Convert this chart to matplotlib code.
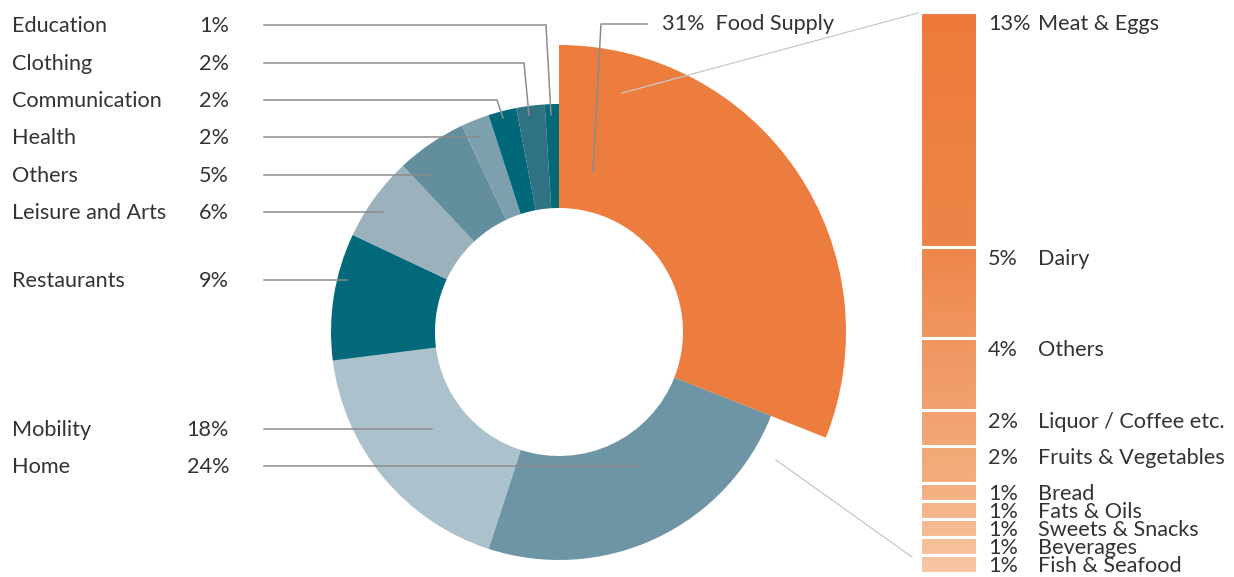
"""
Household spending donut with food supply breakdown
"""
import matplotlib
matplotlib.use("Agg")
import matplotlib.pyplot as plt
import numpy as np
from matplotlib.colors import LinearSegmentedColormap

plt.rcParams['font.family'] = ['Lato', 'DejaVu Sans']

# ---------------- data ----------------
categories = ['Food Supply', 'Home', 'Mobility', 'Restaurants', 'Leisure and Arts',
              'Others', 'Health', 'Communication', 'Clothing', 'Education']
shares     = [31, 24, 18, 9, 6, 5, 2, 2, 2, 1]

food_items  = ['Meat & Eggs', 'Dairy', 'Others', 'Liquor / Coffee etc.',
               'Fruits & Vegetables', 'Bread', 'Fats & Oils', 'Sweets & Snacks',
               'Beverages', 'Fish & Seafood']
food_shares = [13, 5, 4, 2, 2, 1, 1, 1, 1, 1]

# ---------------- style ----------------
W, H = 1234, 577
wedge_colors = ['#ED7D3E', '#6D95A5', '#ABC1CC', '#016979', '#9BB2BD',
                '#628E9E', '#7DA0AE', '#006878', '#2F7383', '#05697A']
txt_c  = '#333333'
lead_c = '#8C8C8C'
fs = 15.6
dy = 2  # text baseline nudge

cx, cy = 559, 332
r_out, r_in, r_food = 228, 124, 287

bar_x0, bar_x1 = 920, 977
bar_top = 12
px_per = 18.1

fig = plt.figure(figsize=(W/100, H/100), dpi=100)
ax = fig.add_axes([0, 0, 1, 1])

# donut (y axis inverted later, so start at -90 and go "counterclock" = visually clockwise)
wedges, _ = ax.pie(shares, startangle=-90, counterclock=True, radius=r_out,
                   center=(cx, cy), colors=wedge_colors,
                   wedgeprops=dict(width=r_out - r_in, linewidth=0))
wedges[0].set_radius(r_food)
wedges[0].set_width(r_food - r_in)

# ---------------- stacked bar for food ----------------
cmap = LinearSegmentedColormap.from_list('food', [
    (0.0, '#ED7A3A'), (0.41, '#EE8548'), (0.57, '#F0955F'),
    (0.70, '#F2A06D'), (0.83, '#F4AC7C'), (1.0, '#F8C7A4')])
bottoms = bar_top + np.concatenate([[0], np.cumsum(food_shares)[:-1]]) * px_per
heights = np.array(food_shares) * px_per
bars = ax.bar([(bar_x0 + bar_x1) / 2] * len(food_shares), heights, bottom=bottoms,
              width=bar_x1 - bar_x0, color='none', edgecolor='white',
              linewidth=2.2, zorder=3)
bar_bot = bar_top + sum(food_shares) * px_per
grad = np.linspace(0, 1, 256).reshape(-1, 1)
for b in bars:
    im = ax.imshow(grad, cmap=cmap, extent=(bar_x0, bar_x1, bar_bot, bar_top),
                   origin='upper', aspect='auto', zorder=2, interpolation='bilinear')
    im.set_clip_path(b)

for name, v, b, h in zip(food_items, food_shares, bottoms, heights):
    ty = min(b + 10, b + h / 2) + dy
    ax.text(988, ty, f'{v}%', fontsize=fs, color=txt_c, va='center', ha='left')
    ax.text(1038, ty, name, fontsize=fs, color=txt_c, va='center', ha='left')

# connector lines from food wedge to bar
ax.plot([622, 918], [93, 13], color='#C8C8C8', lw=0.9, zorder=4)
ax.plot([776, 912], [460, 557], color='#C8C8C8', lw=0.9, zorder=4)

# ---------------- left labels with leaders ----------------
label_y = {'Education': 24, 'Clothing': 62, 'Communication': 99, 'Health': 136,
           'Others': 174, 'Leisure and Arts': 211, 'Restaurants': 279,
           'Mobility': 428, 'Home': 465}
# leader path: (bend x, anchor x, anchor y)
leaders = {'Education': (546, 551, 115), 'Clothing': (524, 529, 115),
           'Communication': (497, 503, 118), 'Health': (481, 481, None),
           'Others': (432, 432, None), 'Leisure and Arts': (383, 383, None),
           'Restaurants': (347, 347, None), 'Mobility': (432, 432, None),
           'Home': (640, 640, None)}
for name, v in zip(categories[1:], shares[1:]):
    y = label_y[name]
    ax.text(12, y + dy, name, fontsize=fs, color=txt_c, va='center', ha='left')
    ax.text(229, y + dy, f'{v}%', fontsize=fs, color=txt_c, va='center', ha='right')
    bx, axx, ayy = leaders[name]
    xs, ys = [264, bx], [y + 1, y + 1]
    if ayy is not None:
        xs.append(axx)
        ys.append(ayy)
    ax.plot(xs, ys, color=lead_c, lw=1.1, zorder=4, solid_joinstyle='miter')

# food supply label
ax.text(662, 22 + dy, f'{shares[0]}%  {categories[0]}', fontsize=fs, color=txt_c,
        va='center', ha='left')
ax.plot([647, 601, 593], [24, 24, 172], color=lead_c, lw=1.1, zorder=4)

ax.set_xlim(0, W)
ax.set_ylim(H, 0)
ax.set_aspect('equal')
ax.axis('off')

fig.savefig('out.png', dpi=100, facecolor='white')
